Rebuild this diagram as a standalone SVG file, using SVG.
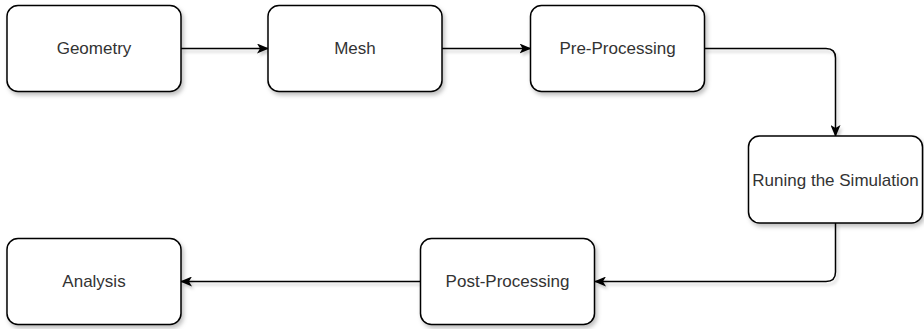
<svg xmlns="http://www.w3.org/2000/svg" width="924" height="329" viewBox="0 0 924 329">
  <defs>
    <filter id="shadow" x="-10%" y="-10%" width="130%" height="140%">
      <feDropShadow dx="2" dy="3" stdDeviation="2" flood-color="#000" flood-opacity="0.25"/>
    </filter>
    <!-- edge shadow uses a fixed region so flat (zero-height) lines still render -->
    <filter id="edgeShadow" filterUnits="userSpaceOnUse" x="0" y="0" width="924" height="329">
      <feDropShadow dx="2" dy="3" stdDeviation="1.5" flood-color="#000" flood-opacity="0.2"/>
    </filter>
    <marker id="arrow" viewBox="0 0 12 10" refX="11" refY="5" markerWidth="12" markerHeight="10" markerUnits="userSpaceOnUse" orient="auto">
      <path d="M0,0 L12,5 L0,10 L3,5 Z" fill="#000"/>
    </marker>
  </defs>
  <style>
    .box { fill: #fff; stroke: #000; stroke-width: 1.5; filter: url(#shadow); }
    .label { font-family: "Liberation Sans", Arial, sans-serif; font-size: 17px; fill: #333; text-anchor: middle; dominant-baseline: central; }
    .edge { fill: none; stroke: #000; stroke-width: 1.5; marker-end: url(#arrow); }
  </style>
  <rect width="924" height="329" fill="#fff"/>

  <g id="connectors" filter="url(#edgeShadow)">
    <path class="edge" d="M181,48.5 L268,48.5"/>
    <path class="edge" d="M442,48.5 L530.5,48.5"/>
    <path class="edge" d="M704,48.5 L826,48.5 Q835.5,48.5 835.5,58 L835.5,136"/>
    <path class="edge" d="M835.5,223 L835.5,272 Q835.5,281.5 826,281.5 L595,281.5"/>
    <path class="edge" d="M420,281.5 L181,281.5"/>
  </g>

  <g id="geometry">
    <rect class="box" x="7" y="5.5" width="174" height="86" rx="11"/>
    <text class="label" x="94" y="48.5">Geometry</text>
  </g>
  <g id="mesh">
    <rect class="box" x="268" y="5.5" width="174" height="86" rx="11"/>
    <text class="label" x="355" y="48.5">Mesh</text>
  </g>
  <g id="pre-processing">
    <rect class="box" x="530.5" y="5.5" width="174" height="86" rx="11"/>
    <text class="label" x="617.5" y="48.5">Pre-Processing</text>
  </g>
  <g id="simulation">
    <rect class="box" x="748.5" y="136" width="174" height="87" rx="11"/>
    <text class="label" x="835.5" y="180">Runing the Simulation</text>
  </g>
  <g id="post-processing">
    <rect class="box" x="420.5" y="238.5" width="174" height="86" rx="11"/>
    <text class="label" x="507.5" y="281.5">Post-Processing</text>
  </g>
  <g id="analysis">
    <rect class="box" x="7" y="238.5" width="174" height="86" rx="11"/>
    <text class="label" x="94" y="281.5">Analysis</text>
  </g>
</svg>
